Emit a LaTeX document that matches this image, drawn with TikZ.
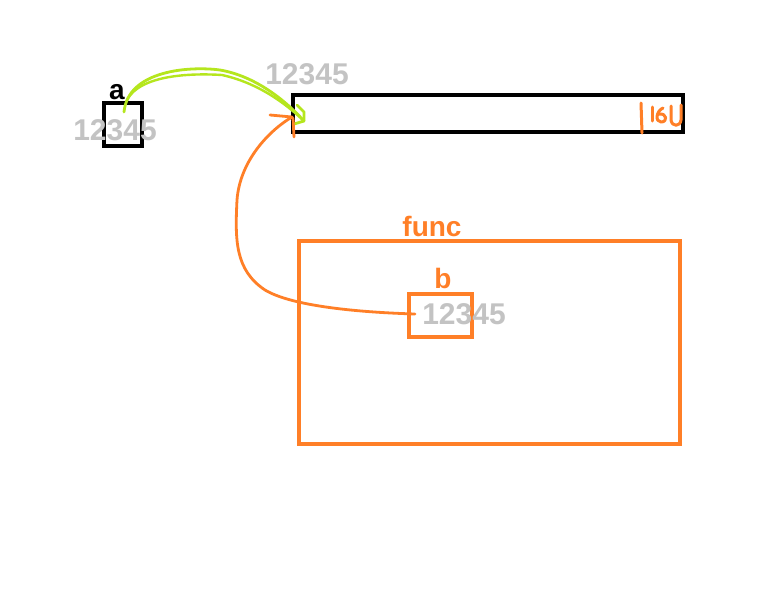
\documentclass[tikz,border=0pt]{standalone}
\usepackage{fontspec}
\setmainfont{Liberation Sans}
\usetikzlibrary{arrows.meta}
\definecolor{paintorange}{RGB}{255,127,39}
\definecolor{paintgreen}{RGB}{181,230,29}
\definecolor{valgray}{RGB}{195,195,195}
\tikzset{
  box/.style={draw, line width=3.2pt, inner sep=0pt},
  val/.style={text=valgray, font=\fontsize{30}{31}\selectfont\bfseries, inner sep=0pt},
  lbl/.style={font=\fontsize{28}{29}\selectfont\bfseries, inner sep=0pt},
  pen/.style={line width=2.8pt, line cap=round, line join=round}
}
\begin{document}
\begin{tikzpicture}[x=1pt,y=-1pt]
    \useasboundingbox[fill=white] (0,0) rectangle (759,589);
    % variable a
    \node[box, minimum width=38pt, minimum height=43pt] (abox) at (123,124.5) {};
    \node[lbl] (alabel) at (117,92) {a};
    \node[val] (aval) at (115,130) {12345};
    % memory bar
    \node[box, minimum width=390pt, minimum height=37pt] (bar) at (488,113.5) {};
    \node[val] (barval) at (307,74) {12345};
    % func frame
    \node[box, draw=paintorange, minimum width=381pt, minimum height=203pt] (func) at (489.5,342.5) {};
    \node[lbl, text=paintorange] (funclabel) at (432,226) {func};
    % variable b
    \node[box, draw=paintorange, minimum width=63pt, minimum height=43pt] (bbox) at (440.5,315.5) {};
    \node[lbl, text=paintorange] (blabel) at (443,278) {b};
    \node[val] (bval) at (464,314) {12345};
    % end points
    \coordinate (astart) at (124,112);
    \coordinate (aend) at (304,121);
    \coordinate (bstart) at (415,314);
    \coordinate (bend) at (292,117);
    % a points to the bar
    \draw[pen, paintgreen] (astart) .. controls (128,70) and (190,66) .. (220,70)
        .. controls (255,76) and (285,100) .. (aend);
    \draw[pen, paintgreen, line width=2.4pt] (127,100) .. controls (140,75) and (190,73) .. (222,75)
        .. controls (258,83) and (285,103) .. (aend);
    \draw[pen, paintgreen] (297,105) -- (304,112) -- (aend) -- (294,124);
    % b points to the bar
    \draw[pen, paintorange] (bstart) .. controls (350,312) and (290,305) .. (265,290)
        .. controls (235,270) and (235,240) .. (237,200)
        .. controls (240,160) and (270,130) .. (bend);
    \draw[pen, paintorange] (bend) -- (270,115);
    \draw[pen, paintorange] (293,118) -- (294,137);
    % end mark of the bar
    \draw[pen, paintorange, line width=3pt] (641,103) -- (642,133);
    \draw[pen, paintorange, line width=3pt] (652,107) -- (652,121);
    \draw[pen, paintorange, line width=3pt] (663,108) .. controls (656,111) and (655,122) .. (661,122)
        .. controls (668,122) and (667,113) .. (659,114);
    \draw[pen, paintorange, line width=3pt] (671,106) -- (671,120) .. controls (672,127) and (680,127) .. (681,120) -- (681,105);
\end{tikzpicture}
\end{document}
